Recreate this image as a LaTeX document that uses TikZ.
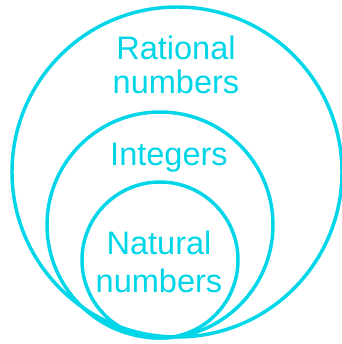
\documentclass[tikz,border=0pt]{standalone}
\usepackage{fontspec}
\setmainfont{Liberation Sans}
\definecolor{setcyan}{RGB}{0,214,232}
\begin{document}
\begin{tikzpicture}[x=0.75pt,y=-0.75pt,
  ring/.style={draw=setcyan,line width=2.6pt},
  lbl/.style={text=setcyan,align=center,inner sep=0pt,font=\fontsize{24.4}{25.5}\selectfont}]
\useasboundingbox (0,0) rectangle (342,344);
\draw[ring] (177,172) circle[radius=165];
\draw[ring] (160,225) circle[radius=113];
\draw[ring] (160,260) circle[radius=78];
\node[lbl] (rat) at (176,65) {Rational\\numbers};
\node[lbl,anchor=base] (int) at (169,165) {Integers};
\node[lbl,font=\fontsize{24.4}{28.5}\selectfont] (nat) at (159,262) {Natural\\numbers};
\end{tikzpicture}
\end{document}
